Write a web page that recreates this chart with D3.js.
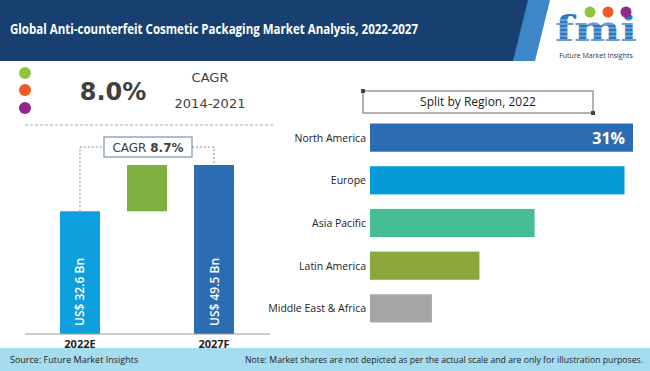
<!DOCTYPE html>
<html>
<head>
<meta charset="utf-8">
<script src="https://cdn.jsdelivr.net/npm/d3@7"></script>
<style>
  html,body{margin:0;padding:0;background:#fff;}
  svg{display:block;}
</style>
</head>
<body>
<script>
// ---- data ----
const title = "Global Anti-counterfeit Cosmetic Packaging Market Analysis, 2022-2027";
const years = ["2022E", "2027F"];
const marketValues = [32.6, 49.5];
const marketLabels = ["US$ 32.6 Bn", "US$ 49.5 Bn"];
const cagrHist = "8.0%";
const cagrHistPeriod = "2014-2021";
const cagrForecast = "8.7%";
const regions = ["North America", "Europe", "Asia Pacific", "Latin America", "Middle East & Africa"];
const regionShares = [31, 30, 19.4, 12.9, 7.3];
const regionTitle = "Split by Region, 2022";
const sourceText = "Source: Future Market Insights";
const noteText = "Note: Market shares are not depicted as per the actual scale and are only for illustration purposes.";

const W = 650, H = 371;
const svg = d3.select("body").append("svg").attr("width", W).attr("height", H);
const font = "'Open Sans', sans-serif";

// ---- header ----
svg.append("rect").attr("x",0).attr("y",0).attr("width",W).attr("height",61).attr("fill","#173f70");
svg.append("polygon").attr("points","528,0 552,0 537,61 513,61").attr("fill","#3d86c8");
svg.append("polygon").attr("points","550,0 650,0 650,61 535,61").attr("fill","#ffffff");
svg.append("text").attr("x",10).attr("y",34).attr("fill","#fff")
  .attr("font-family",font).attr("font-weight",700).attr("font-size",15)
  .attr("textLength",408).attr("lengthAdjust","spacingAndGlyphs").text(title);

// logo
const logo = svg.append("g");
logo.append("text").attr("x",596).attr("y",41).attr("text-anchor","middle")
  .attr("font-family","'DejaVu Serif', serif").attr("font-weight",700).attr("font-size",36)
  .attr("fill","#2b79c2").attr("textLength",82).attr("lengthAdjust","spacingAndGlyphs").text("fmi");
for (let i=0;i<6;i++){
  logo.append("line").attr("x1",553).attr("x2",640).attr("y1",20+i*4).attr("y2",20+i*4)
    .attr("stroke","#ffffff").attr("stroke-width",0.8).attr("opacity",0.7);
}
[["#8cc63f",590],["#f15a24",608],["#92278f",626]].forEach(([c,x])=>{
  logo.append("circle").attr("cx",x).attr("cy",12).attr("r",5.5).attr("fill",c);
});
logo.append("text").attr("x",596).attr("y",58).attr("text-anchor","middle")
  .attr("font-family",font).attr("font-size",7).attr("fill","#333").text("Future Market Insights");

// ---- CAGR historical block ----
[["#8cc63f",73],["#f15a24",90],["#92278f",108]].forEach(([c,y])=>{
  svg.append("circle").attr("cx",25).attr("cy",y).attr("r",6).attr("fill",c);
});
svg.append("text").attr("x",113).attr("y",100).attr("text-anchor","middle")
  .attr("font-family","'DejaVu Sans', sans-serif").attr("font-weight",700).attr("font-size",24)
  .attr("fill","#404040").text(cagrHist);
svg.append("text").attr("x",210).attr("y",82).attr("text-anchor","middle")
  .attr("font-family","'DejaVu Sans', sans-serif").attr("font-size",13).attr("fill","#404040").text("CAGR");
svg.append("text").attr("x",210).attr("y",108).attr("text-anchor","middle")
  .attr("font-family","'DejaVu Sans', sans-serif").attr("font-size",13).attr("fill","#404040").text(cagrHistPeriod);
svg.append("line").attr("x1",25).attr("x2",275).attr("y1",125).attr("y2",125)
  .attr("stroke","#aaa").attr("stroke-dasharray","3,2");

// ---- left bar chart ----
const xL = d3.scaleBand().domain([years[0], "inc", years[1]]).range([47, 247]).paddingInner(0.403).paddingOuter(0.194);
const yL = d3.scaleLinear().domain([-12.2, 49.5]).range([334, 165]);
const bw = xL.bandwidth();
const leftColors = ["#0ea0dc", "#2b6cb3"];
years.forEach((yr,i)=>{
  svg.append("rect").attr("x",xL(yr)).attr("y",yL(marketValues[i])).attr("width",bw)
    .attr("height",yL(yL.domain()[0]) - yL(marketValues[i])).attr("fill",leftColors[i]);
  const cx = xL(yr)+bw/2;
  svg.append("text").attr("transform",`translate(${cx+4.5},326) rotate(-90)`)
    .attr("font-family",font).attr("font-weight",600).attr("font-size",12).attr("fill","#fff")
    .text(marketLabels[i]);
  svg.append("text").attr("x",cx).attr("y",348).attr("text-anchor","middle")
    .attr("font-family",font).attr("font-weight",700).attr("font-size",11).attr("fill","#222").text(yr);
});
svg.append("rect").attr("x",xL("inc")).attr("y",yL(marketValues[1])).attr("width",bw)
  .attr("height",yL(marketValues[0]) - yL(marketValues[1])).attr("fill","#80b040");
svg.append("line").attr("x1",25).attr("x2",270).attr("y1",334).attr("y2",334).attr("stroke","#999").attr("stroke-width",1);

// connector
const c1 = xL(years[0])+bw/2, c2 = xL(years[1])+bw/2;
svg.append("path").attr("d",`M${c1},${yL(marketValues[0])}V147H104M192,147H${c2}V${yL(marketValues[1])}`)
  .attr("fill","none").attr("stroke","#888").attr("stroke-dasharray","2,2");
svg.append("rect").attr("x",104).attr("y",137).attr("width",88).attr("height",20)
  .attr("fill","#fff").attr("stroke","#5a7fa0").attr("stroke-width",1);
const ct = svg.append("text").attr("x",148).attr("y",152).attr("text-anchor","middle")
  .attr("font-family","'DejaVu Sans', sans-serif").attr("font-size",12).attr("fill","#404040");
ct.append("tspan").text("CAGR ");
ct.append("tspan").attr("font-weight",700).text(cagrForecast);

// ---- right bar chart ----
const xR = d3.scaleLinear().domain([0, 31]).range([370, 633]);
const yR = d3.scaleBand().domain(regions).range([115, 331]).paddingInner(0.34).paddingOuter(0.2);
const regionColors = ["#2b6cb3", "#069bd8", "#45bd96", "#8aa83c", "#a6a6a6"];
regions.forEach((r,i)=>{
  svg.append("rect").attr("x",xR(0)).attr("y",yR(r)).attr("width",xR(regionShares[i])-xR(0))
    .attr("height",yR.bandwidth()).attr("fill",regionColors[i]);
  svg.append("text").attr("x",366).attr("y",yR(r)+yR.bandwidth()/2+4).attr("text-anchor","end")
    .attr("font-family",font).attr("font-size",10.5).attr("fill","#222").text(r);
});
svg.append("text").attr("x",xR(regionShares[0])-8).attr("y",yR(regions[0])+yR.bandwidth()/2+6)
  .attr("text-anchor","end").attr("font-family",font).attr("font-weight",700).attr("font-size",16)
  .attr("fill","#fff").text(regionShares[0]+"%");

// region title box
svg.append("rect").attr("x",363).attr("y",91).attr("width",230).attr("height",22)
  .attr("fill","#fff").attr("stroke","#666").attr("stroke-width",1);
svg.append("rect").attr("x",361).attr("y",89).attr("width",4).attr("height",4).attr("fill","#444");
svg.append("rect").attr("x",591).attr("y",111).attr("width",4).attr("height",4).attr("fill","#444");
svg.append("text").attr("x",478).attr("y",106).attr("text-anchor","middle")
  .attr("font-family",font).attr("font-size",12).attr("fill","#222").text(regionTitle);

// ---- footer ----
svg.append("rect").attr("x",0).attr("y",348).attr("width",W).attr("height",H-348).attr("fill","#a6dcf0");
svg.append("text").attr("x",10).attr("y",363).attr("font-family",font).attr("font-size",9).attr("fill","#222").text(sourceText);
svg.append("text").attr("x",245).attr("y",363).attr("font-family",font).attr("font-size",8.6)
  .attr("fill","#222").attr("textLength",398).attr("lengthAdjust","spacingAndGlyphs").text(noteText);
</script>
</body>
</html>
